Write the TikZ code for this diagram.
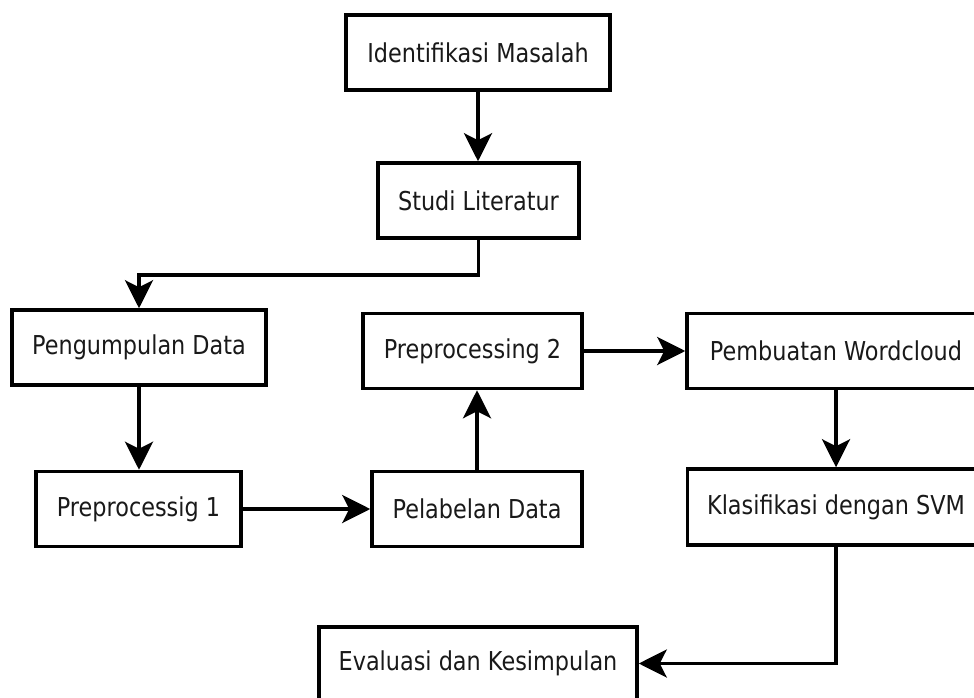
\documentclass[tikz,border=0pt]{standalone}
\usepackage{fontspec}
\setmainfont{DejaVu Sans}[FakeStretch=0.86]
\usetikzlibrary{arrows.meta,calc}
\begin{document}
\begin{tikzpicture}[x=1pt,y=-1pt,
  box/.style={draw=black, line width=3.5pt, fill=white, inner sep=0pt,
    font=\fontsize{26}{30}\selectfont, text=black!90},
  conn/.style={line width=3.5pt, -{Stealth[length=28pt,width=28pt,inset=7pt]}}]
\clip (0,0) rectangle (974,698);
\fill[white] (0,0) rectangle (974,698);
\node[box, minimum width=264pt, minimum height=75pt] (ident) at (478,52.5) {Identifikasi Masalah};
\node[box, minimum width=201pt, minimum height=75pt] (studi) at (478.5,200.5) {Studi Literatur};
\node[box, minimum width=254pt, minimum height=75pt] (kumpul) at (139,347.5) {Pengumpulan Data};
\node[box, minimum width=205pt, minimum height=75pt] (pre1) at (138.5,509) {Preprocessig 1};
\node[box, minimum width=210pt, minimum height=75pt] (label) at (477,509) {Pelabelan Data};
\node[box, minimum width=219pt, minimum height=75pt] (pre2) at (472.5,351) {Preprocessing 2};
\node[box, minimum width=298pt, minimum height=75pt] (word) at (836,351) {Pembuatan Wordcloud};
\node[box, minimum width=297pt, minimum height=76pt] (svm) at (836,507) {Klasifikasi dengan SVM};
\node[box, minimum width=318pt, minimum height=73pt] (eval) at (478,663.5) {Evaluasi dan Kesimpulan};
\coordinate (bend) at (0,275);
\draw[conn] (ident.south) -- (ident.south |- studi.north);
\draw[conn] (studi.south) -- (studi.south |- bend) -| (kumpul.north);
\draw[conn] (kumpul.south) -- (kumpul.south |- pre1.north);
\draw[conn] (pre1.east) -- (label.west);
\draw[conn] (label.north) -- (label.north |- pre2.south);
\draw[conn] (pre2.east) -- (word.west);
\draw[conn] (word.south) -- (svm.north);
\draw[conn] (svm.south) |- (eval.east);
\end{tikzpicture}
\end{document}
